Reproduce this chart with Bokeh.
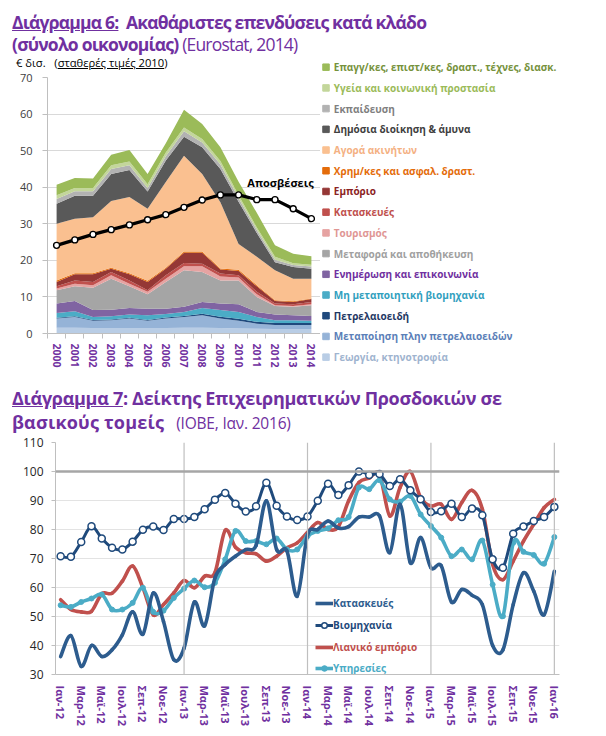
import numpy as np
from bokeh.plotting import figure
from bokeh.models import (ColumnDataSource, Range1d, FixedTicker, Label, Span, Div,
                          Legend, LegendItem)
from bokeh.layouts import column, row
from bokeh.embed import file_html
from bokeh.resources import INLINE
from bokeh.core.properties import value

FONT = "Open Sans"
PURPLE = "#7030A0"

# ---------------- Chart 6 data (EUR bn, constant 2010 prices) ----------------
years = list(range(2000, 2015))
sector_names = [
    "Γεωργία, κτηνοτροφία",
    "Μεταποίηση πλην πετρελαιοειδών",
    "Πετρελαιοειδή",
    "Μη μεταποιητική βιομηχανία",
    "Ενημέρωση και επικοινωνία",
    "Μεταφορά και αποθήκευση",
    "Τουρισμός",
    "Κατασκευές",
    "Εμπόριο",
    "Χρημ/κες και ασφαλ. δραστ.",
    "Αγορά ακινήτων",
    "Δημόσια διοίκηση & άμυνα",
    "Εκπαίδευση",
    "Υγεία και κοινωνική προστασία",
    "Επαγγ/κες, επιστ/κες, δραστ., τέχνες, διασκ.",
]
agriculture   = [1.6, 1.6, 1.5, 1.5, 1.5, 1.5, 1.5, 1.6, 1.6, 1.5, 1.4, 1.3, 1.2, 1.2, 1.2]
manufacturing = [2.5, 2.9, 2.0, 2.1, 2.6, 2.0, 2.6, 2.9, 3.4, 2.6, 2.1, 1.4, 1.1, 1.1, 1.1]
petroleum     = [0.2, 0.2, 0.2, 0.2, 0.2, 0.2, 0.3, 0.3, 0.4, 0.5, 0.5, 0.5, 0.6, 0.6, 0.6]
non_manuf     = [1.3, 1.4, 0.8, 0.9, 0.9, 1.3, 0.9, 1.1, 1.6, 1.8, 1.9, 1.3, 0.7, 0.7, 0.6]
info_comm     = [2.6, 2.8, 1.9, 1.8, 1.8, 1.8, 1.5, 1.4, 1.6, 1.8, 2.1, 1.4, 1.6, 1.4, 1.3]
transport     = [3.6, 4.0, 6.1, 8.5, 5.9, 3.9, 7.3, 10.0, 8.2, 6.3, 6.5, 4.1, 2.3, 2.3, 2.9]
tourism       = [0.5, 0.7, 0.7, 0.9, 0.7, 0.7, 0.9, 1.1, 1.6, 1.1, 0.8, 0.7, 0.2, 0.2, 0.3]
construction  = [0.6, 0.9, 0.9, 0.9, 0.9, 0.4, 0.9, 0.9, 0.7, 0.8, 0.6, 0.7, 0.5, 0.5, 0.6]
trade         = [1.2, 1.7, 2.1, 0.9, 1.7, 2.3, 1.8, 2.8, 3.0, 1.1, 1.2, 1.5, 0.7, 0.6, 0.8]
finance       = [0.4, 0.3, 0.3, 0.3, 0.3, 0.3, 0.3, 0.3, 0.3, 0.3, 0.3, 0.3, 0.2, 0.2, 0.2]
real_estate   = [15.5, 14.9, 15.3, 18.2, 20.8, 19.7, 23.4, 26.2, 21.2, 18.1, 7.1, 7.8, 8.2, 6.2, 5.4]
public_admin  = [5.5, 6.3, 5.9, 7.4, 7.4, 4.7, 5.9, 5.2, 7.3, 9.1, 11.5, 6.5, 2.2, 3.2, 2.7]
education     = [1.3, 1.2, 1.2, 1.4, 1.3, 1.0, 1.2, 1.5, 1.3, 1.2, 1.0, 0.8, 0.7, 0.5, 0.6]
health        = [1.0, 0.9, 0.9, 1.0, 1.0, 1.0, 1.0, 1.0, 1.0, 1.0, 0.8, 0.7, 0.8, 0.5, 0.5]
professional  = [2.9, 2.7, 2.6, 2.9, 3.2, 2.8, 2.5, 4.9, 4.1, 3.7, 3.7, 4.0, 3.1, 2.6, 2.3]
depreciation  = [24.1, 25.6, 27.1, 28.4, 29.7, 31.1, 32.5, 34.5, 36.5, 37.9, 37.9, 36.6, 36.6, 34.1, 31.4]
depreciation_label = "Αποσβέσεις"

sector_values = [agriculture, manufacturing, petroleum, non_manuf, info_comm, transport,
                 tourism, construction, trade, finance, real_estate, public_admin,
                 education, health, professional]
fill_colors = ["#B9CDE5", "#95B3D7", "#1F497D", "#4BACC6", "#8064A2", "#A5A5A5",
               "#E6A3A2", "#C0504D", "#953735", "#E46C0A", "#FAC090", "#595959",
               "#B2B2B2", "#C3D69B", "#9BBB59"]
text_colors = ["#9FB4CF", "#5B7FB8", "#1F3864", "#31A0BE", "#7030A0", "#A0A0A0",
               "#E09694", "#C0504D", "#8B2323", "#E46C0A", "#F4B183", "#404040",
               "#7F7F7F", "#9BBB59", "#76923C"]

# ---------------- Chart 7 data (business expectation indices) ----------------
month_names = ["Ιαν", "Φεβ", "Μαρ", "Απρ", "Μαϊ", "Ιουν", "Ιουλ", "Αυγ", "Σεπ", "Οκτ", "Νοε", "Δεκ"]
first_year = 12
kataskeves = [36.2, 43.4, 32.8, 40.0, 36.2, 38.5, 43.7, 51.6, 43.9, 58.1, 48.3, 35.1,
              39.1, 55.0, 46.8, 63.3, 67.9, 70.8, 73.1, 74.5, 89.9, 73.1, 72.6, 57.0,
              78.0, 80.0, 82.9, 80.5, 81.0, 84.3, 84.3, 84.7, 72.0, 88.7, 68.5, 77.2,
              66.8, 67.5, 55.0, 59.3, 57.3, 54.1, 40.0, 38.5, 54.1, 65.1, 58.7, 50.6,
              65.6]
viomixania = [70.8, 70.6, 75.7, 81.1, 76.9, 73.7, 73.1, 75.8, 79.9, 81.0, 79.8, 83.6,
              83.6, 84.3, 87.0, 90.3, 92.6, 88.9, 86.2, 88.0, 96.1, 88.2, 84.5, 83.3,
              84.5, 89.9, 95.8, 91.9, 95.3, 100.0, 98.8, 99.1, 95.0, 97.3, 93.5, 90.4,
              86.0, 86.3, 88.9, 84.3, 87.2, 84.9, 69.7, 66.8, 78.5, 81.0, 82.9, 84.3,
              87.8]
lianiko = [55.8, 52.4, 51.6, 51.8, 57.8, 58.0, 62.2, 67.4, 59.9, 50.6, 54.1, 58.1,
           62.4, 59.9, 63.9, 65.1, 79.7, 73.9, 72.0, 71.6, 69.1, 70.8, 73.7, 75.4,
           79.0, 82.4, 80.0, 81.0, 89.9, 96.2, 97.7, 99.1, 84.7, 94.5, 100.0, 91.0,
           88.1, 88.7, 83.5, 89.3, 93.5, 87.0, 67.9, 62.7, 69.1, 76.0, 81.8, 87.5,
           90.4]
ypiresies = [53.9, 53.3, 55.0, 56.2, 57.6, 52.4, 52.4, 54.7, 59.9, 51.6, 52.0, 56.4,
             59.6, 62.4, 60.1, 61.6, 69.7, 79.5, 76.0, 76.0, 74.9, 76.9, 73.1, 73.1,
             77.7, 79.5, 80.4, 83.2, 84.3, 94.5, 93.9, 97.0, 90.4, 89.6, 91.6, 85.2,
             81.2, 77.2, 70.8, 73.1, 69.7, 76.2, 61.0, 50.1, 75.4, 72.3, 71.2, 68.2,
             77.4]
series7 = [kataskeves, viomixania, lianiko, ypiresies]
series7_names = ["Κατασκευές", "Βιομηχανία", "Λιανικό εμπόριο", "Υπηρεσίες"]
series7_colors = ["#2D5C8E", "#1F4A7C", "#C0504D", "#4BACC6"]

# ============================ Title 1 ============================
title1 = Div(
    text=(
        f'<div style="font-family:\'{FONT}\';color:{PURPLE};font-size:17.5px;line-height:22px;'
        'font-weight:bold;letter-spacing:-0.8px;padding-left:12px;padding-top:11px;white-space:nowrap">'
        '<span style="text-decoration:underline">Διάγραμμα 6:</span>&nbsp; Ακαθάριστες επενδύσεις κατά κλάδο<br>'
        '(σύνολο οικονομίας) <span style="font-weight:normal">(Eurostat, 2014)</span></div>'
    ),
    width=600, height=57, margin=(0, 0, 0, 0))
subtitle1 = Div(
    text=(f'<div style="font-family:\'{FONT}\';font-size:11.2px;line-height:12px;color:#000;'
          'padding-left:16px;position:relative;top:-2px;white-space:nowrap">'
          '€ δισ.&nbsp;&nbsp; (<u>σταθερές τιμές 2010</u>)</div>'),
    width=320, height=13, margin=(0, 0, 0, 0))

# ============================ Chart 6 ============================
p1 = figure(width=320, height=303, x_range=Range1d(1999.5, 2014.5), y_range=Range1d(0, 70),
            output_backend="svg", toolbar_location=None,
            min_border_left=47, min_border_right=0, min_border_top=7, min_border_bottom=40)
p1.outline_line_color = None
p1.background_fill_color = None
p1.border_fill_color = None

keys = [f"s{i}" for i in range(len(sector_values))]
src1 = ColumnDataSource(dict(year=years, **{k: v for k, v in zip(keys, sector_values)}))
p1.varea_stack(stackers=keys, x="year", color=fill_colors, source=src1)

p1.line(years, depreciation, line_color="black", line_width=3.2)
p1.scatter(years, depreciation, size=6, fill_color="white", line_color="black", line_width=1.4)
p1.add_layout(Label(x=2012.3, y=41.2, text=depreciation_label, text_align="center",
                    text_baseline="middle", text_font=FONT, text_font_size="11px",
                    text_font_style="bold", text_color="black"))

p1.xaxis.ticker = FixedTicker(ticks=years, minor_ticks=[y - 0.5 for y in years] + [years[-1] + 0.5])
p1.xaxis.major_label_orientation = "vertical"
p1.xaxis.major_label_text_color = PURPLE
p1.xaxis.major_label_text_font = FONT
p1.xaxis.major_label_text_font_style = "bold"
p1.xaxis.major_label_text_font_size = "10.5px"
p1.xaxis.major_tick_line_color = None
p1.xaxis.minor_tick_line_color = "#BFBFBF"
p1.xaxis.minor_tick_in = 0
p1.xaxis.minor_tick_out = 5
p1.xaxis.axis_line_color = "#BFBFBF"
p1.xaxis.major_label_standoff = 4

p1.yaxis.ticker = FixedTicker(ticks=list(range(0, 71, 10)))
p1.yaxis.major_label_text_font = FONT
p1.yaxis.major_label_text_font_size = "11px"
p1.yaxis.major_label_text_color = "#404040"
p1.yaxis.major_tick_line_color = "#BFBFBF"
p1.yaxis.major_tick_in = 0
p1.yaxis.major_tick_out = 5
p1.yaxis.minor_tick_line_color = None
p1.yaxis.axis_line_color = "#BFBFBF"
p1.yaxis.major_label_standoff = 10
p1.xgrid.grid_line_color = None
p1.ygrid.grid_line_color = "#D9D9D9"

# ---- legend panel for chart 6 (pixel-like coordinates, top entry first) ----
LEG_W, LEG_H = 280, 316
legfig = figure(width=LEG_W, height=LEG_H, x_range=Range1d(0, LEG_W), y_range=Range1d(LEG_H, 0),
                output_backend="svg", toolbar_location=None, min_border=0)
legfig.axis.visible = False
legfig.grid.visible = False
legfig.outline_line_color = None
legfig.background_fill_color = None
legfig.border_fill_color = None
order = list(reversed(range(len(sector_names))))
row_y = [9.7 + 20.71 * i for i in range(len(order))]
leg_src = ColumnDataSource(dict(
    y=row_y,
    xs=[5.5] * len(order), xt=[13.3] * len(order),
    name=[sector_names[k] for k in order],
    fc=[fill_colors[k] for k in order],
    tc=[text_colors[k] for k in order]))
legfig.scatter(x="xs", y="y", marker="square", size=6.5, fill_color="fc", line_color="fc", source=leg_src)
legfig.text(x="xt", y="y", text="name", text_color="tc", text_font=value(FONT),
            text_font_size="10px", text_font_style="bold", text_baseline="middle", source=leg_src)

# ============================ Title 2 ============================
title2 = Div(
    text=(
        f'<div style="font-family:\'{FONT}\';color:{PURPLE};font-size:18px;line-height:24px;'
        'font-weight:bold;letter-spacing:-0.3px;padding-left:12px;padding-top:13px;white-space:nowrap">'
        '<span style="text-decoration:underline">Διάγραμμα 7</span>: Δείκτης Επιχειρηματικών Προσδοκιών σε<br>'
        '<span style="letter-spacing:0.2px">βασικούς τομείς</span>'
        '<span style="font-weight:normal;font-size:15.5px;letter-spacing:-0.2px;margin-left:12px">(ΙΟΒΕ, Ιαν. 2016)</span></div>'
    ),
    width=600, height=60, margin=(0, 0, 0, 0))

# ============================ Chart 7 ============================
n = len(viomixania)
months = list(range(n))
month_labels = [f"{month_names[i % 12]}-{first_year + i // 12}" for i in months]

p2 = figure(width=600, height=295, x_range=Range1d(-0.5, n - 0.5), y_range=Range1d(30, 110),
            output_backend="svg", toolbar_location=None,
            min_border_left=55, min_border_right=41, min_border_top=9, min_border_bottom=54)
p2.outline_line_color = None
p2.background_fill_color = None
p2.border_fill_color = None
p2.xgrid.grid_line_color = None
p2.ygrid.grid_line_color = "#E3E3E3"
p2.ygrid.grid_line_width = 1

for m in months:
    if m > 0 and m % 12 == 0:
        p2.add_layout(Span(location=m, dimension="height", line_color="#BFBFBF", line_width=1.2))
p2.add_layout(Span(location=100, dimension="width", line_color="#A6A6A6", line_width=2.5))


def smooth_line(p, x, y, color, width):
    x = np.asarray(x, float)
    y = np.asarray(y, float)
    xp = np.concatenate([[x[0]], x, [x[-1]]])
    yp = np.concatenate([[y[0]], y, [y[-1]]])
    i = np.arange(len(x) - 1)
    src = ColumnDataSource(dict(
        x0=x[i], y0=y[i], x1=x[i + 1], y1=y[i + 1],
        cx0=x[i] + (xp[i + 2] - xp[i]) / 6, cy0=y[i] + (yp[i + 2] - yp[i]) / 6,
        cx1=x[i + 1] - (xp[i + 3] - xp[i + 1]) / 6, cy1=y[i + 1] - (yp[i + 3] - yp[i + 1]) / 6))
    return p.bezier(x0="x0", y0="y0", x1="x1", y1="y1", cx0="cx0", cy0="cy0", cx1="cx1", cy1="cy1",
                    source=src, line_color=color, line_width=width, line_cap="round")


smooth_line(p2, months, lianiko, series7_colors[2], 3.6)
smooth_line(p2, months, ypiresies, series7_colors[3], 3.6)
p2.scatter(months, ypiresies, size=5, fill_color=series7_colors[3], line_color=series7_colors[3])
smooth_line(p2, months, kataskeves, series7_colors[0], 3.6)
smooth_line(p2, months, viomixania, series7_colors[1], 3.0)
p2.scatter(months, viomixania, size=7, fill_color="white", line_color=series7_colors[1], line_width=1.5)

# hidden renderers (same data) that only supply the legend swatches
lw = [3.6, 3.0, 3.6, 3.6]
leg_renderers = []
for k in range(4):
    rs = [p2.line(months, series7[k], line_color=series7_colors[k], line_width=lw[k], visible=False)]
    if k == 1:
        rs.append(p2.scatter(months, series7[k], size=7, fill_color="white",
                             line_color=series7_colors[k], line_width=1.5, visible=False))
    if k == 3:
        rs.append(p2.scatter(months, series7[k], size=5, fill_color=series7_colors[k],
                             line_color=series7_colors[k], visible=False))
    leg_renderers.append(rs)

leg_y = [64, 42, 20, -1]
for k in range(4):
    leg = Legend(items=[LegendItem(label=series7_names[k], renderers=leg_renderers[k])],
                 location=(260, leg_y[k]), orientation="vertical", padding=0, margin=0, spacing=0,
                 glyph_width=18, glyph_height=14, label_height=14, label_standoff=0,
                 label_text_font=FONT, label_text_font_size="10px", label_text_font_style="bold",
                 label_text_color=series7_colors[k], background_fill_alpha=0, border_line_alpha=0,
                 inactive_fill_alpha=0)
    p2.add_layout(leg)

p2.xaxis.ticker = FixedTicker(ticks=[m for m in months if m % 2 == 0])
p2.xaxis.major_label_overrides = {m: month_labels[m] for m in months if m % 2 == 0}
p2.xaxis.major_label_orientation = "vertical"
p2.xaxis.major_label_text_color = PURPLE
p2.xaxis.major_label_text_font = FONT
p2.xaxis.major_label_text_font_style = "bold"
p2.xaxis.major_label_text_font_size = "11px"
p2.xaxis.major_tick_line_color = None
p2.xaxis.minor_tick_line_color = None
p2.xaxis.axis_line_color = "#BFBFBF"
p2.xaxis.major_label_standoff = 5

p2.yaxis.ticker = FixedTicker(ticks=list(range(30, 111, 10)))
p2.yaxis.major_label_text_font = FONT
p2.yaxis.major_label_text_font_size = "12px"
p2.yaxis.major_label_text_color = "#262626"
p2.yaxis.major_tick_line_color = "#BFBFBF"
p2.yaxis.major_tick_in = 0
p2.yaxis.major_tick_out = 4
p2.yaxis.minor_tick_line_color = None
p2.yaxis.axis_line_color = "#BFBFBF"
p2.yaxis.major_label_standoff = 8

top_block = row(column(subtitle1, p1, spacing=0), legfig, spacing=0)
layout = column(title1, top_block, title2, p2, spacing=0)
open("out.html", "w").write(file_html(layout, INLINE))
